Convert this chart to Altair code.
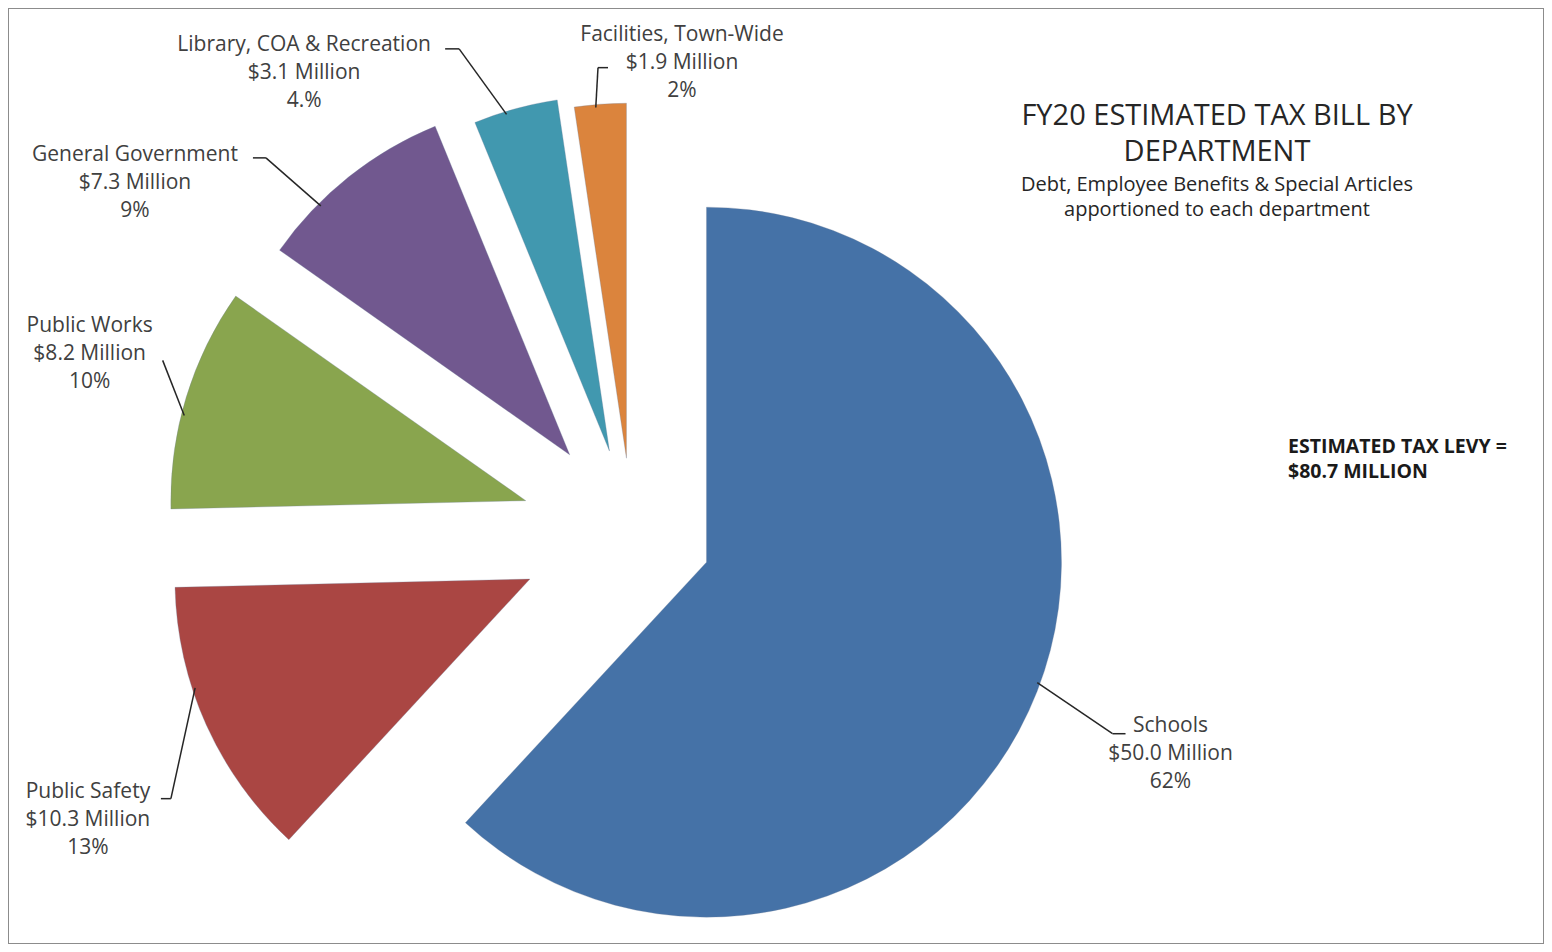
import altair as alt
import pandas as pd

# ---- data ----
departments = ["Schools", "Public Safety", "Public Works", "General Government",
               "Library, COA & Recreation", "Facilities, Town-Wide"]
amounts = [50.0, 10.3, 8.2, 7.3, 3.1, 1.9]
amount_labels = ["$50.0 Million", "$10.3 Million", "$8.2 Million", "$7.3 Million",
                 "$3.1 Million", "$1.9 Million"]
pct_labels = ["62%", "13%", "10%", "9%", "4.%", "2%"]

title_lines = ["FY20 ESTIMATED TAX BILL BY", "DEPARTMENT"]
subtitle_lines = ["Debt, Employee Benefits & Special Articles", "apportioned to each department"]
levy_lines = ["ESTIMATED TAX LEVY =", "$80.7 MILLION"]

# ---- styles / layout ----
colors = ["#4572A7", "#AA4643", "#89A54E", "#71588F", "#4198AF", "#DB843D"]
explode = [80, 112, 111, 100, 85, 75]              # px slice pulled out
label_angle_shift = [0.9, -3.5, 1.3, -16.3, -20.1, 10.3]   # deg vs. slice middle
label_radius = [582, 615, 571, 608, 565, 473]     # px from pie centre
leader_angle = [110, 252, 284, 315, 343, 355]     # deg, where leader meets slice
elbow_dx = [-58, 83, 73, 131, 155, -84]
elbow_dy = [-20, -21, 6, -25, -24, 5]
hook_dx = [13, -10, 0, -13, -14, 10]

CX, CY, R = 624, 525, 355
W, H = 1536, 936
FONT = "Open Sans"
LINE_H = 28

df = pd.DataFrame({
    "order": list(range(len(departments))),
    "dept": departments,
    "amount": amounts,
    "label": [f"{d}\n{a}\n{p}" for d, a, p in zip(departments, amount_labels, pct_labels)],
    "explode": explode,
    "lshift": label_angle_shift,
    "lrad": label_radius,
    "lang": leader_angle,
    "edx": elbow_dx,
    "edy": elbow_dy,
    "hdx": hook_dx,
})

base = (
    alt.Chart(df)
    .transform_window(cum="sum(amount)", sort=[alt.SortField("order")], frame=[None, 0])
    .transform_joinaggregate(total="sum(amount)")
    .transform_calculate(a0="2*PI*(datum.cum-datum.amount)/datum.total")
    .transform_calculate(a1="2*PI*datum.cum/datum.total")
    .transform_calculate(mid="(datum.a0+datum.a1)/2")
    .transform_calculate(sx=f"{CX}+datum.explode*sin(datum.mid)")
    .transform_calculate(sy=f"{CY}-datum.explode*cos(datum.mid)")
    .transform_calculate(la="datum.mid+datum.lshift*PI/180")
    .transform_calculate(lx=f"{CX}+datum.lrad*sin(datum.la)")
    .transform_calculate(ly=f"{CY}-datum.lrad*cos(datum.la)")
    .transform_calculate(px=f"datum.sx+{R-3}*sin(datum.lang*PI/180)")
    .transform_calculate(py=f"datum.sy-{R-3}*cos(datum.lang*PI/180)")
    .transform_calculate(ex="datum.lx+datum.edx")
    .transform_calculate(ey="datum.ly+datum.edy")
    .transform_calculate(hx="datum.ex+datum.hdx")
)

arcs = base.mark_arc(radius=R, stroke="#6f7f99", strokeWidth=0.6, strokeOpacity=0.5).encode(
    x=alt.X("sx:Q", scale=None, axis=None),
    y=alt.Y("sy:Q", scale=None, axis=None),
    theta=alt.Theta("a0:Q", scale=None, stack=False),
    theta2="a1:Q",
    color=alt.Color("dept:N", scale=alt.Scale(domain=departments, range=colors), legend=None),
)

leader = base.mark_rule(color="#262626", strokeWidth=1.5).encode(
    x=alt.X("px:Q", scale=None, axis=None),
    y=alt.Y("py:Q", scale=None, axis=None),
    x2="ex:Q",
    y2="ey:Q",
)

hook = base.mark_rule(color="#262626", strokeWidth=1.5).encode(
    x=alt.X("ex:Q", scale=None, axis=None),
    y=alt.Y("ey:Q", scale=None, axis=None),
    x2="hx:Q",
    y2="ey:Q",
)

labels = base.mark_text(font=FONT, fontSize=21, lineBreak="\n", lineHeight=LINE_H, dy=-LINE_H,
                        align="center", baseline="middle", color="#404040").encode(
    x=alt.X("lx:Q", scale=None, axis=None),
    y=alt.Y("ly:Q", scale=None, axis=None),
    text="label:N",
)

title_df = pd.DataFrame({"t": title_lines, "i": range(len(title_lines))})
title = alt.Chart(title_df).mark_text(font=FONT, fontSize=29, align="center", baseline="middle",
                                     color="#262626").encode(
    x=alt.value(1209),
    y=alt.Y("i:Q", scale=alt.Scale(domain=[0, 1], range=[108, 144]), axis=None),
    text="t:N",
)

sub_df = pd.DataFrame({"t": subtitle_lines, "i": range(len(subtitle_lines))})
subtitle = alt.Chart(sub_df).mark_text(font=FONT, fontSize=20, align="center", baseline="middle",
                                      color="#262626").encode(
    x=alt.value(1209),
    y=alt.Y("i:Q", scale=alt.Scale(domain=[0, 1], range=[177, 202]), axis=None),
    text="t:N",
)

levy_df = pd.DataFrame({"t": levy_lines, "i": range(len(levy_lines))})
levy = alt.Chart(levy_df).mark_text(font=FONT, fontSize=19.5, fontWeight="bold", align="left",
                                   baseline="middle", color="#1a1a1a").encode(
    x=alt.value(1280),
    y=alt.Y("i:Q", scale=alt.Scale(domain=[0, 1], range=[439, 464]), axis=None),
    text="t:N",
)

chart = (
    alt.layer(arcs, leader, hook, labels, title, subtitle, levy)
    .resolve_scale(y="independent")
    .properties(width=W, height=H, padding=0,
                autosize=alt.AutoSizeParams(type="fit", contains="padding"))
    .configure_view(stroke="#8c8c8c", strokeWidth=2)
)

chart.save("out.html", embed_options={"renderer": "svg", "actions": False})
